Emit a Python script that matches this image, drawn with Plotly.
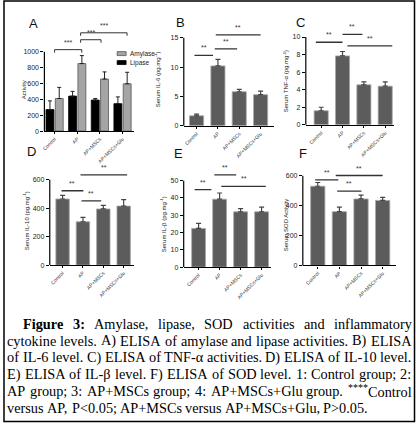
import plotly.graph_objects as go

W, H = 416, 426

groups = ["Control", "AP", "AP+MSCs", "AP+MSCs+Glu"]
xpos = [0, 1, 2, 3]

# Panel A - enzyme activities
amylase = [410, 850, 655, 595]
amylase_err = [140, 100, 90, 145]
lipase = [270, 440, 390, 345]
lipase_err = [110, 60, 20, 85]

# Panels B-F
il6 = [1.7, 10.2, 5.8, 5.3]
il6_err = [0.3, 1.1, 0.4, 0.6]
tnf = [1.6, 7.85, 4.55, 4.4]
tnf_err = [0.4, 0.5, 0.35, 0.5]
il10 = [465, 305, 395, 415]
il10_err = [25, 30, 25, 45]
il1b = [22.4, 39.3, 32.0, 32.0]
il1b_err = [2.9, 3.6, 1.9, 2.7]
sod = [530, 360, 445, 435]
sod_err = [25, 30, 25, 20]

# significance lines: (x from, x to, height)
sig_a = [(0, 1.2, 1025), (1.15, 2.05, 1150), (1.15, 3.2, 1237)]
sig_b = [(-0.1, 0.77, 12.0), (0.85, 1.9, 13.1), (0.9, 3.0, 15.5)]
sig_c = [(-0.25, 1.0, 9.4), (1.0, 1.93, 10.3), (1.23, 3.33, 9.0)]
sig_d = [(-0.05, 1.02, 523), (0.93, 1.9, 452), (0.88, 3.17, 635)]
sig_e = [(-0.19, 0.61, 44.8), (0.75, 1.79, 53.4), (1.08, 3.2, 46.7)]
sig_f = [(-0.12, 0.95, 573), (0.9, 2.02, 498), (0.83, 3.0, 602)]

caption = [
    "Figure 3: Amylase, lipase, SOD activities and inflammatory",
    "cytokine levels. A) ELISA of amylase and lipase activities. B) ELISA",
    "of IL-6 level. C) ELISA of TNF-\u03b1 activities. D) ELISA of IL-10 level.",
    "E) ELISA of IL-\u03b2 level. F) ELISA of SOD level. 1: Control group; 2:",
    "AP group; 3: AP+MSCs group; 4: AP+MSCs+Glu group. ****Control",
    "versus AP, P<0.05; AP+MSCs versus AP+MSCs+Glu, P>0.05.",
]

SANS = "Liberation Sans, Arial, sans-serif"
SERIF = "Liberation Serif, Times New Roman, serif"
BAR = "#5c5c5c"
AMY = "#a5a5a5"

# layout of the six panels, in pixels of the 416x426 page
panels = [
    dict(letter="A", left=41.7, right=131.8, top=24, bottom=132, xr=[-0.45, 3.5], yr=[0, 1350],
         ytop=1000, dtick=200, title="Activity", tpos=(22, 90), lpos=(31, 24), sig=sig_a, star="***"),
    dict(letter="B", left=182.1, right=273, top=23.2, bottom=126.7, xr=[-0.6, 3.63], yr=[0, 17.5],
         ytop=15, dtick=5, title="Serum IL-6 (pg.mg<sup>-1</sup>)", tpos=(156, 80), lpos=(178.5, 23),
         sig=sig_b, star="**", y=il6, e=il6_err),
    dict(letter="C", left=305, right=393.6, top=24, bottom=125.7, xr=[-0.72, 3.4], yr=[0, 11.5],
         ytop=10, dtick=2, title="Serum TNF-\u03b1 (pg.mg<sup>-1</sup>)", tpos=(285, 82), lpos=(300, 23),
         sig=sig_c, star="**", y=tnf, e=tnf_err),
    dict(letter="D", left=47.1, right=131.8, top=161, bottom=267, xr=[-0.63, 3.5], yr=[0, 740],
         ytop=600, dtick=200, title="Serum IL-10 (pg.mg<sup>-1</sup>)", tpos=(24, 222), lpos=(29, 153),
         sig=sig_d, star="**", y=il10, e=il10_err),
    dict(letter="E", left=182, right=270, top=164.6, bottom=269, xr=[-0.71, 3.45], yr=[0, 60],
         ytop=50, dtick=10, title="Serum IL-\u03b2 (pg.mg<sup>-1</sup>)", tpos=(162, 226), lpos=(177, 155),
         sig=sig_e, star="**", y=il1b, e=il1b_err),
    dict(letter="F", left=302, right=395.5, top=165, bottom=267.3, xr=[-0.69, 3.6], yr=[0, 680],
         ytop=600, dtick=200, title="Serum SOD Activity", tpos=(285, 226), lpos=(302, 155),
         sig=sig_f, star="**", y=sod, e=sod_err),
]


def px_x(v):
    return v / W


def px_y(v):
    return 1 - v / H


fig = go.Figure()
shapes = []
annotations = []

for i, p in enumerate(panels):
    n = "" if i == 0 else str(i + 1)
    xa, ya = "x" + n, "y" + n

    if p["letter"] == "A":
        fig.add_trace(go.Bar(
            x=xpos, y=amylase, name="Amylase", xaxis=xa, yaxis=ya, width=0.35, offset=0.03,
            marker=dict(color=AMY, line=dict(color="#555555", width=0.8)),
            error_y=dict(type="data", array=amylase_err, arrayminus=[0] * 4, symmetric=False,
                         color="#222222", thickness=1, width=2)))
        fig.add_trace(go.Bar(
            x=xpos, y=lipase, name="Lipase", xaxis=xa, yaxis=ya, width=0.35, offset=-0.38,
            marker=dict(color="#000000", line=dict(color="#000000", width=0.8)),
            error_y=dict(type="data", array=lipase_err, arrayminus=[0] * 4, symmetric=False,
                         color="#222222", thickness=1, width=2)))
    else:
        fig.add_trace(go.Bar(
            x=xpos, y=p["y"], xaxis=xa, yaxis=ya, width=0.66,
            marker=dict(color=BAR, line=dict(color="#a8a8a8", width=0.8)),
            error_y=dict(type="data", array=p["e"], arrayminus=[0] * 4, symmetric=False,
                         color="#444444", thickness=1.2, width=2.5)))

    fig.update_layout(**{
        ("xaxis" + n): dict(
            domain=[px_x(p["left"]), px_x(p["right"])], range=p["xr"], anchor=ya,
            tickvals=xpos, ticktext=groups, tickangle=-45, showline=True, linecolor="#000000",
            linewidth=1.2, ticks="outside", ticklen=2, tickcolor="#000000", showgrid=False,
            zeroline=False, tickfont=dict(family=SANS, size=5, color="#333333")),
        ("yaxis" + n): dict(
            domain=[px_y(p["bottom"]), px_y(p["top"])], range=p["yr"], anchor=xa,
            tickvals=list(range(0, p["ytop"] + 1, p["dtick"])), showline=False, ticks="outside",
            ticklen=3, tickcolor="#000000", tickwidth=1, showgrid=False, zeroline=False,
            tickfont=dict(family=SANS, size=7, color="#222222")),
    })

    # y axis line only up to the top tick
    shapes.append(dict(type="line", xref=xa + " domain", yref=ya + " domain", x0=0, x1=0,
                       y0=0, y1=p["ytop"] / p["yr"][1], line=dict(color="#000000", width=1.2)))

    ppu = (p["bottom"] - p["top"]) / p["yr"][1]
    for x0, x1, yv in p["sig"]:
        if p["letter"] == "A":
            drop = 3 / ppu
            shapes.append(dict(type="path", xref=xa, yref=ya,
                               path=f"M {x0},{yv - drop} L {x0},{yv} L {x1},{yv} L {x1},{yv - drop}",
                               line=dict(color="#333333", width=1)))
        else:
            shapes.append(dict(type="line", xref=xa, yref=ya, x0=x0, x1=x1, y0=yv, y1=yv,
                               line=dict(color="#333333", width=1.3)))
        annotations.append(dict(x=(x0 + x1) / 2, y=yv + 2 / ppu, xref=xa, yref=ya, text=p["star"],
                                showarrow=False, yanchor="bottom",
                                font=dict(family=SANS, size=7, color="#333333")))

    annotations.append(dict(x=px_x(p["lpos"][0]), y=px_y(p["lpos"][1]), xref="paper", yref="paper",
                            text=p["letter"], showarrow=False, xanchor="center", yanchor="middle",
                            font=dict(family=SANS, size=13, color="#111111")))
    annotations.append(dict(x=px_x(p["tpos"][0]), y=px_y(p["tpos"][1]), xref="paper", yref="paper",
                            text=p["title"], showarrow=False, textangle=-90, xanchor="center",
                            yanchor="middle", font=dict(family=SANS, size=6, color="#222222")))

# legend of panel A, drawn small like the original
for k, (name, col, edge) in enumerate([("Amylase", AMY, "#555555"), ("Lipase", "#000000", "#000000")]):
    yc = 54 + 9 * k
    shapes.append(dict(type="rect", xref="paper", yref="paper", x0=px_x(115), x1=px_x(124),
                       y0=px_y(yc + 2), y1=px_y(yc - 2), fillcolor=col, line=dict(color=edge, width=0.8)))
    annotations.append(dict(x=px_x(127), y=px_y(yc), xref="paper", yref="paper", text=name,
                            showarrow=False, xanchor="left", yanchor="middle", borderpad=0,
                            font=dict(family=SANS, size=6.5, color="#222222")))

# caption, justified word by word with Times metrics
TIMES = {" ": 250, "a": 444, "b": 500, "c": 444, "d": 500, "e": 444, "f": 333, "g": 500, "h": 500,
         "i": 278, "j": 278, "k": 500, "l": 278, "m": 778, "n": 500, "o": 500, "p": 500, "q": 500,
         "r": 333, "s": 389, "t": 278, "u": 500, "v": 500, "w": 722, "x": 500, "y": 500, "z": 444,
         "A": 722, "B": 667, "C": 667, "D": 722, "E": 611, "F": 556, "G": 722, "H": 722, "I": 333,
         "L": 611, "M": 889, "N": 722, "O": 722, "P": 556, "R": 667, "S": 556, "T": 611,
         ".": 250, ",": 250, ":": 278, ";": 278, "(": 333, ")": 333, "-": 333, "+": 564, "<": 564,
         ">": 564, "*": 500, "\u03b1": 520, "\u03b2": 500}
BOLD = {"F": 611, "i": 278, "g": 500, "u": 556, "r": 444, "e": 444, "3": 500, ":": 333}
FS = 14.3


def word_width(w, bold=False):
    table = BOLD if bold else TIMES
    if w.startswith("****"):
        return 4 * 500 * 0.7 * FS / 1000 + word_width(w[4:])
    return sum(table.get(c, 500) for c in w) * FS / 1000


def markup(w, bold=False):
    t = w.replace("<", "&lt;").replace(">", "&gt;")
    if w.startswith("****"):
        t = "<sup>****</sup>" + t[4:]
    return f"<b>{t}</b>" if bold else t


line_y = [326.5, 343.3, 360, 376.8, 393.6, 410.4]
for k, line in enumerate(caption):
    words = line.split(" ")
    bold = [k == 0 and j < 2 for j in range(len(words))]
    widths = [word_width(w, b) for w, b in zip(words, bold)]
    left = 19 if k == 0 else 3
    right = 410
    if k == len(caption) - 1:
        gap = TIMES[" "] * FS / 1000
    else:
        gap = (right - left - sum(widths)) / (len(words) - 1)
    x = left
    for w, b, wd in zip(words, bold, widths):
        annotations.append(dict(x=px_x(x), y=px_y(line_y[k]), xref="paper", yref="paper",
                                text=markup(w, b), showarrow=False, xanchor="left", yanchor="middle",
                                borderpad=0, font=dict(family=SERIF, size=FS, color="#000000")))
        x += wd + gap

# outer frame
shapes.append(dict(type="rect", xref="paper", yref="paper", x0=px_x(1), x1=px_x(414.5),
                   y0=px_y(424.5), y1=px_y(1), line=dict(color="#000000", width=1.5)))

fig.update_layout(
    width=W, height=H,
    margin=dict(l=0, r=0, t=0, b=0),
    paper_bgcolor="#ffffff",
    plot_bgcolor="rgba(0,0,0,0)",
    barmode="overlay",
    shapes=shapes,
    annotations=annotations,
    showlegend=False,
)

fig.write_html("out.html", config={"displayModeBar": False},
               post_script="document.body.style.margin='0px';")
